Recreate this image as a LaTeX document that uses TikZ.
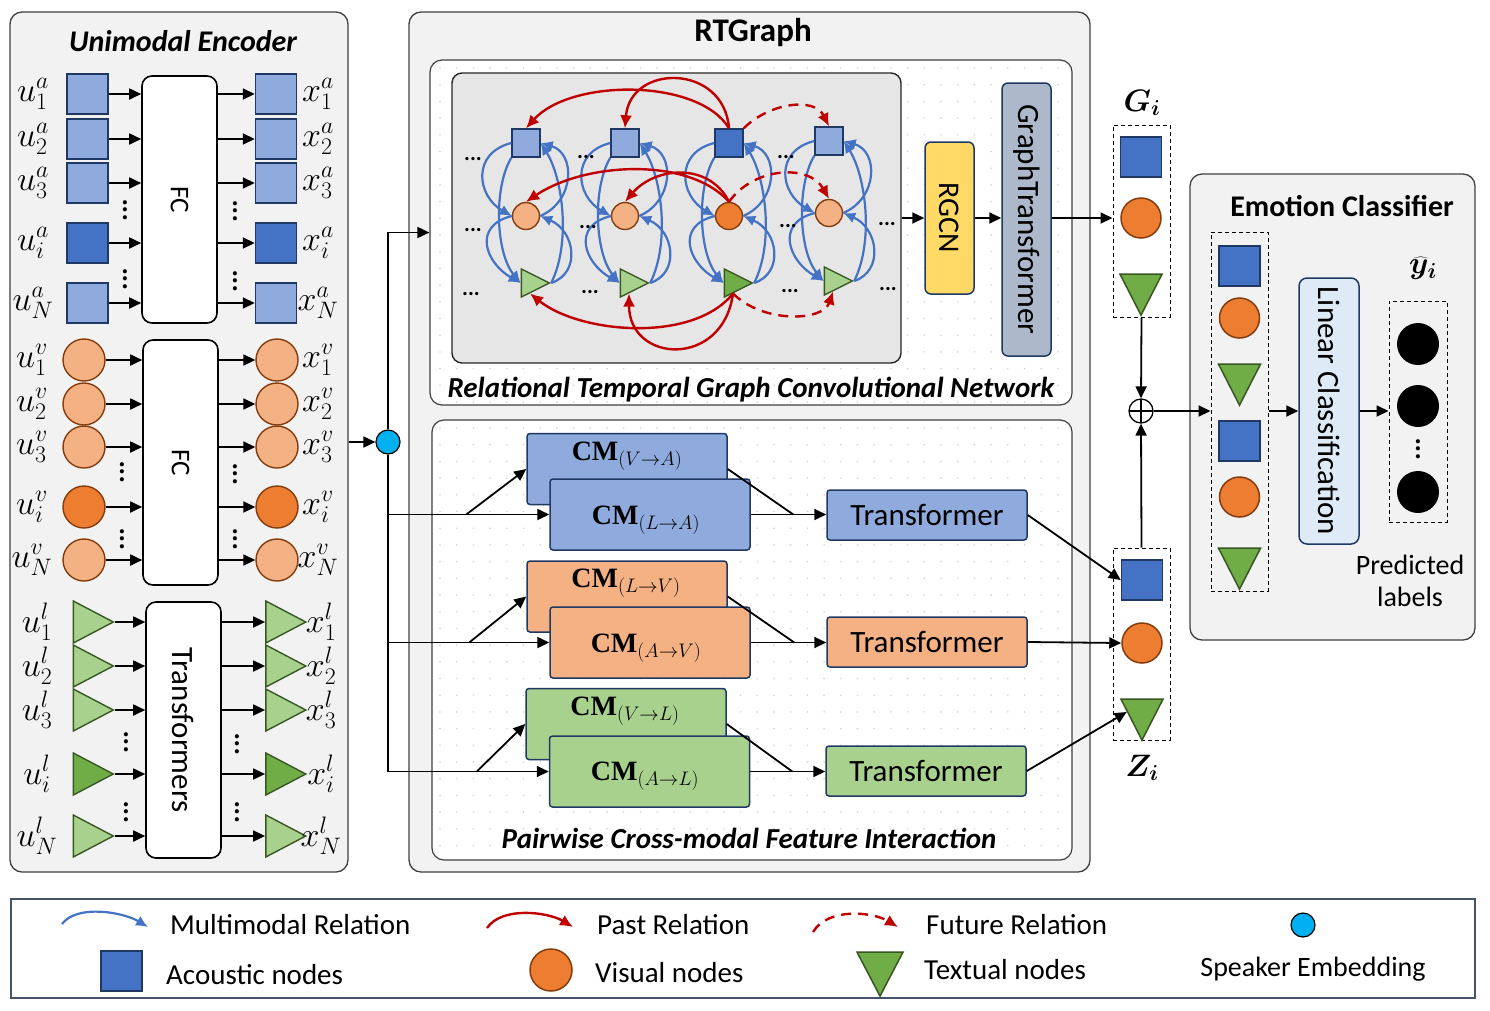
\RequirePackage{fix-cm}
\documentclass[tikz,border=0pt]{standalone}
\usepackage[no-math]{fontspec}
\setmainfont{Carlito}
\newfontfamily\cmserif{Liberation Serif}
\usepackage{bm}
\usetikzlibrary{arrows.meta,shapes.geometric}
\definecolor{lblue}{HTML}{8FAADC}
\definecolor{dblue}{HTML}{4472C4}
\definecolor{lorange}{HTML}{F4B183}
\definecolor{dorange}{HTML}{ED7D31}
\definecolor{lgreen}{HTML}{A9D18E}
\definecolor{dgreen}{HTML}{70AD47}
\definecolor{bnavy}{HTML}{1F3864}
\definecolor{obrown}{HTML}{843C0C}
\definecolor{gdark}{HTML}{385723}
\definecolor{panelgray}{HTML}{F2F2F2}
\definecolor{graphgray}{HTML}{E7E6E6}
\definecolor{relblue}{HTML}{4472C4}
\definecolor{relred}{HTML}{C00000}
\definecolor{rgcnyellow}{HTML}{FFD966}
\definecolor{gtgray}{HTML}{ADB9CA}
\definecolor{lcblue}{HTML}{DEEBF7}
\definecolor{spkcyan}{HTML}{00B0F0}
\definecolor{dotgray}{HTML}{D3D3D3}
\definecolor{legendc}{HTML}{44546A}
\tikzset{
  panel/.style={draw=black!75, line width=1.3pt, fill=panelgray, rounded corners=12pt, inner sep=0pt},
  whitebox/.style={draw=black!75, line width=1.2pt, fill=white, rounded corners=12pt, inner sep=0pt},
  encbox/.style={draw=black, line width=1.6pt, fill=white, rounded corners=10pt, inner sep=0pt, minimum width=75pt},
  sqA/.style={draw=bnavy, line width=1.4pt, minimum width=41pt, minimum height=40pt, inner sep=0pt},
  ciV/.style={circle, draw=obrown, line width=1.4pt, minimum size=42pt, inner sep=0pt},
  trL/.style={isosceles triangle, isosceles triangle stretches, draw=gdark, line width=1.4pt, minimum width=42pt, minimum height=40pt, inner sep=0pt},
  mlab/.style={font=\fontsize{34}{38}\selectfont, inner sep=0pt},
  vdt/.style={rotate=90, font=\fontsize{28}{30}\selectfont\bfseries, inner sep=0pt},
  arr/.style={line width=1.8pt, -{Triangle[length=12pt,width=11pt]}},
  plainln/.style={line width=1.8pt},
  rotlab/.style={rotate=-90, font=\fontsize{31}{36}\selectfont, inner sep=0pt},
  ttl/.style={font=\fontsize{30}{36}\selectfont\bfseries\itshape, inner sep=0pt},
  gsq/.style={draw=bnavy, line width=1.4pt, minimum size=28pt, inner sep=0pt},
  gci/.style={circle, draw=obrown, line width=1.4pt, minimum size=27pt, inner sep=0pt},
  gtr/.style={isosceles triangle, isosceles triangle stretches, draw=gdark, line width=1.4pt, minimum width=28pt, minimum height=28pt, inner sep=0pt},
  bluerel/.style={draw=relblue, line width=2.2pt, -{Latex[length=12pt,width=11pt]}},
  redrel/.style={draw=relred, line width=2.4pt, -{Latex[length=13pt,width=12pt]}},
  redfut/.style={redrel, dash pattern=on 10pt off 7pt},
  gdots/.style={font=\fontsize{22}{22}\selectfont\bfseries, inner sep=0pt},
  cmbox/.style={draw=bnavy, line width=1.5pt, rounded corners=3pt, minimum width=200pt, minimum height=71pt, inner sep=0pt},
  cmtxt/.style={font=\fontsize{28}{32}\selectfont, anchor=base, inner sep=0pt},
  tfbox/.style={draw=bnavy, line width=1.5pt, rounded corners=3pt, minimum width=200pt, minimum height=50pt, inner sep=0pt, font=\fontsize{31}{36}\selectfont},
  dashbox/.style={draw=black, line width=1pt, dash pattern=on 4pt off 3pt, inner sep=0pt},
  bsq/.style={draw=bnavy, line width=1.5pt, fill=dblue, minimum width=41pt, minimum height=40pt, inner sep=0pt},
  bci/.style={circle, draw=obrown, line width=1.5pt, fill=dorange, minimum size=40pt, inner sep=0pt},
  btr/.style={isosceles triangle, isosceles triangle stretches, shape border rotate=270, draw=gdark, line width=1.5pt, fill=dgreen, minimum width=42pt, minimum height=41pt, inner sep=0pt},
  lgtxt/.style={font=\fontsize{29}{34}\selectfont, anchor=west, inner sep=0pt},
  blk/.style={circle, fill=black, minimum size=42pt, inner sep=0pt},
}
\begin{document}
\begin{tikzpicture}[x=1pt,y=-1pt]
\useasboundingbox (0,0) rectangle (1490,1010);
\fill[white] (0,0) rectangle (1490,1010);

% ================= Unimodal Encoder =================
\node[panel, minimum width=338pt, minimum height=860pt] (enc) at (179,442) {};
\node[ttl] (enctitle) at (183,41) {Unimodal Encoder};

\node[encbox, minimum height=247pt] (fcA) at (179.5,199.5) {};
\node[rotlab, font=\fontsize{27}{32}\selectfont] (fcAt) at (fcA.center) {FC};
\node[encbox, minimum height=245pt] (fcV) at (180.5,462.5) {};
\node[rotlab, font=\fontsize{27}{32}\selectfont] (fcVt) at (fcV.center) {FC};
\node[encbox, minimum height=256pt] (fcL) at (183.5,730) {};
\node[rotlab] (fcLt) at (fcL.center) {Transformers};

\foreach \yy/\sb/\fl [count=\k] in {94/1/lblue,139/2/lblue,183/3/lblue,243/i/dblue,303/N/lblue}{
  \node[sqA, fill=\fl] (ua\k) at (87.5,\yy) {};
  \node[sqA, fill=\fl] (xa\k) at (276,\yy) {};
  \node[mlab] (ual\k) at (33,\yy) {$u_{\sb}^{a}$};
  \node[mlab] (xal\k) at (318,\yy) {$x_{\sb}^{a}$};
  \draw[arr] (ua\k.east) -- (ua\k.east -| fcA.west);
  \draw[arr] (xa\k.west -| fcA.east) -- (xa\k.west);
}
\foreach \yy/\sb/\fl [count=\k] in {360/1/lorange,404/2/lorange,447/3/lorange,507/i/dorange,560/N/lorange}{
  \node[ciV, fill=\fl] (uv\k) at (84,\yy) {};
  \node[ciV, fill=\fl] (xv\k) at (277,\yy) {};
  \node[mlab] (uvl\k) at (32,\yy) {$u_{\sb}^{v}$};
  \node[mlab] (xvl\k) at (318,\yy) {$x_{\sb}^{v}$};
  \draw[arr] (uv\k.east) -- (uv\k.east -| fcV.west);
  \draw[arr] (xv\k.west -| fcV.east) -- (xv\k.west);
}
\foreach \yy/\sb/\fl [count=\k] in {622/1/lgreen,666/2/lgreen,710/3/lgreen,774/i/dgreen,836/N/lgreen}{
  \node[trL, fill=\fl] (ul\k) at (86,\yy) {};
  \node[trL, fill=\fl] (xl\k) at (278.5,\yy) {};
  \node[mlab] (ull\k) at (37,\yy) {$u_{\sb}^{l}$};
  \node[mlab] (xll\k) at (321,\yy) {$x_{\sb}^{l}$};
  \draw[arr] (ul\k.east) -- (ul\k.east -| fcL.west);
  \draw[arr] (xl\k.west -| fcL.east) -- (xl\k.west);
}
\foreach \xx/\yy [count=\k] in {125/210,125/279,235/211,235/281,122/472,122/539,235/474,235/539,126/742,126/812,237/744,237/812}{
  \node[vdt] (vd\k) at (\xx,\yy) {...};
}

% ================= Speaker embedding =================
\node[circle, draw=black, line width=1.2pt, fill=spkcyan, minimum size=24pt, inner sep=0pt] (spk) at (388,442) {};

% ================= RTGraph =================
\node[panel, minimum width=681pt, minimum height=860pt] (rtg) at (749.5,442) {};
\node[font=\fontsize{33}{38}\selectfont\bfseries, inner sep=0pt] (rtgt) at (753,33) {RTGraph};
\node[whitebox, minimum width=642pt, minimum height=345pt] (rtgcn) at (751,232.5) {};
\node[whitebox, minimum width=640pt, minimum height=440pt] (pcm) at (752,640) {};
\begin{scope}
  \clip[rounded corners=12pt] (rtgcn.south west) rectangle (rtgcn.north east);
  \foreach \xx in {440,456.7,...,1070} \foreach \yy in {68,84.7,...,402} \fill[dotgray] (\xx,\yy) circle (0.9);
\end{scope}
\begin{scope}
  \clip[rounded corners=12pt] (pcm.south west) rectangle (pcm.north east);
  \foreach \xx in {440,456.7,...,1070} \foreach \yy in {428,444.7,...,858} \fill[dotgray] (\xx,\yy) circle (0.9);
\end{scope}
\node[font=\fontsize{29}{34}\selectfont\bfseries\itshape, inner sep=0pt] (rtgcnl) at (751,390) {Relational Temporal Graph Convolutional Network};
\node[font=\fontsize{29}{34}\selectfont\bfseries\itshape, inner sep=0pt] (pcml) at (749,838) {Pairwise Cross-modal Feature Interaction};

% graph box
\node[draw=black!85, line width=1.4pt, fill=graphgray, rounded corners=10pt, minimum width=449pt, minimum height=290pt, inner sep=0pt] (gbox) at (676.5,218) {};

\foreach \i/\cx/\sy/\cy/\ty/\fs/\fc/\ft in {1/526/143/216/283/lblue/lorange/lgreen,2/625/143/216/283/lblue/lorange/lgreen,3/729/143/216/283/dblue/dorange/dgreen,4/829/141/213/281/lblue/lorange/lgreen}{
  \node[gsq, fill=\fs] (s\i) at (\cx,\sy) {};
  \node[gci, fill=\fc] (c\i) at (\cx,\cy) {};
  \node[gtr, fill=\ft] (t\i) at (\cx+4,\ty) {};
  \draw[bluerel] (s\i.west) .. controls +(-40,10) and +(-35,-20) .. (c\i.west);
  \draw[bluerel] (s\i.south west) .. controls +(-18,30) and +(-25,-30) .. (t\i.west);
  \draw[bluerel] (c\i.west) .. controls +(-40,10) and +(-35,-20) .. (t\i.west);
  \draw[bluerel] (t\i.east) .. controls +(30,-10) and +(35,15) .. (c\i.east);
  \draw[bluerel] (t\i.east) .. controls +(20,-40) and +(22,35) .. (s\i.east);
  \draw[bluerel] (c\i.east) .. controls +(35,-15) and +(35,10) .. (s\i.east);
}
% past / future relations
\draw[redrel] (s3.north) .. controls +(-30,-50) and +(45,-50) .. (s1.north);
\draw[redrel] (s3.north) .. controls +(-5,-65) and +(5,-65) .. (s2.north);
\draw[redfut] (s3.north east) .. controls +(25,-25) and +(-15,-30) .. (s4.north);
\draw[redrel] (c3.north) .. controls +(-40,-45) and +(60,-40) .. (c1.north);
\draw[redrel] (c3.north) .. controls +(-20,-40) and +(30,-35) .. (c2.north);
\draw[redfut] (c3.north) .. controls +(25,-35) and +(-20,-35) .. (c4.north);
\draw[redrel] (t3.south) .. controls +(-40,50) and +(50,40) .. (t1.south);
\draw[redrel] (t3.south) .. controls +(-10,75) and +(0,70) .. (t2.south);
\draw[redfut] (t3.south) .. controls +(30,30) and +(-10,30) .. (t4.south);

\foreach \xx/\yy [count=\k] in {473/159,473/230,471/294,586/157,588/227,590/292,786/157,788/226,790/291,887/224,888/289}{
  \node[gdots] (gd\k) at (\xx,\yy) {...};
}

% RGCN, GraphTransformer
\node[draw=bnavy, line width=1.5pt, fill=rgcnyellow, rounded corners=6pt, minimum width=49pt, minimum height=152pt, inner sep=0pt] (rgcn) at (949.5,218) {};
\node[rotlab, font=\fontsize{30}{34}\selectfont] (rgcnt) at (rgcn.center) {RGCN};
\node[draw=bnavy, line width=1.5pt, fill=gtgray, rounded corners=6pt, minimum width=49pt, minimum height=273pt, inner sep=0pt] (gt) at (1026.5,219.5) {};
\node[rotlab] (gtt) at (gt.center) {GraphTransformer};
\draw[arr] (gbox.east) -- (gbox.east -| rgcn.west);
\draw[arr] (gbox.east -| rgcn.east) -- (gbox.east -| gt.west);

% G_i
\node[dashbox, minimum width=57pt, minimum height=192pt] (gi) at (1141.5,221) {};
\node[bsq] (gsqn) at (1141,157) {};
\node[bci] (gcn) at (1141,218) {};
\node[btr] (gtrn) at (1141,287) {};
\node[font=\fontsize{31}{36}\selectfont, inner sep=0pt] (gil) at (1142,103) {$\bm{G_i}$};
\draw[arr] (gbox.east -| gt.east) -- (gbox.east -| gi.west);

% speaker connections
\draw[arr] (enc.east) -- (spk.west);
\draw[arr] (spk.north) |- (rtgcn.west);

% CM boxes
\node[cmbox, fill=lblue] (cmVA) at (627,469) {};
\node[cmbox, fill=lblue] (cmLA) at (650,514.5) {};
\node[cmbox, fill=lorange] (cmLV) at (627,596.5) {};
\node[cmbox, fill=lorange] (cmAV) at (650,642.5) {};
\node[cmbox, fill=lgreen] (cmVL) at (626,724) {};
\node[cmbox, fill=lgreen] (cmAL) at (649.5,771.5) {};
\node[cmtxt] (cmVAt) at (627,460) {{\cmserif\bfseries CM}$_{(V\rightarrow A)}$};
\node[cmtxt] (cmLAt) at (646,524) {{\cmserif\bfseries CM}$_{(L\rightarrow A)}$};
\node[cmtxt] (cmLVt) at (626,587) {{\cmserif\bfseries CM}$_{(L\rightarrow V)}$};
\node[cmtxt] (cmAVt) at (646,652) {{\cmserif\bfseries CM}$_{(A\rightarrow V)}$};
\node[cmtxt] (cmVLt) at (625,715) {{\cmserif\bfseries CM}$_{(V\rightarrow L)}$};
\node[cmtxt] (cmALt) at (645,780) {{\cmserif\bfseries CM}$_{(A\rightarrow L)}$};

\node[tfbox, fill=lblue] (tfA) at (927,515) {Transformer};
\node[tfbox, fill=lorange] (tfV) at (927,642) {Transformer};
\node[tfbox, fill=lgreen] (tfL) at (926,771) {Transformer};

\draw[arr] (spk.south) |- (cmLA.west);
\draw[arr] (spk.south) |- (cmAV.west);
\draw[arr] (spk.south) |- (cmAL.west);
\path (cmLA.west) ++(-83,0) coordinate (bA);
\path (cmAV.west) ++(-80,0) coordinate (bV);
\path (cmAL.west) ++(-72,0) coordinate (bL);
\draw[arr] (bA) -- (cmVA.west);
\draw[arr] (bV) -- (cmLV.west);
\draw[arr] (bL) -- (cmVL.west);

\draw[arr] (cmLA.east) -- (cmLA.east -| tfA.west);
\draw[arr] (cmAV.east) -- (cmAV.east -| tfV.west);
\draw[arr] (cmAL.east) -- (cmAL.east -| tfL.west);
\path (cmLA.east -| tfA.west) ++(-33,0) coordinate (mA);
\path (cmAV.east -| tfV.west) ++(-32,0) coordinate (mV);
\path (cmAL.east -| tfL.west) ++(-33,0) coordinate (mL);
\draw[plainln] (cmVA.east) -- (mA);
\draw[plainln] (cmLV.east) -- (mV);
\draw[plainln] (cmVL.east) -- (mL);

% Z_i
\node[dashbox, minimum width=57pt, minimum height=192pt] (zi) at (1141.5,644) {};
\node[bsq] (zsq) at (1142,580) {};
\node[bci] (zc) at (1142,643) {};
\node[btr] (ztr) at (1142,712) {};
\node[font=\fontsize{31}{36}\selectfont, inner sep=0pt] (zil) at (1142,768) {$\bm{Z_i}$};
\draw[arr] (tfA.east) -- (zsq.west);
\draw[arr] (tfV.east) -- (zc.west);
\draw[arr] (tfL.east) -- (ztr.west);

% oplus
\node[circle, draw=black, line width=1.3pt, fill=white, minimum size=24pt, inner sep=0pt,
  path picture={\draw[line width=1.3pt] (path picture bounding box.north) -- (path picture bounding box.south) (path picture bounding box.west) -- (path picture bounding box.east);}] (oplus) at (1141,411) {};
\draw[arr] (gi.south) -- (oplus.north);
\draw[arr] (zi.north) -- (oplus.south);

% ================= Emotion Classifier =================
\node[panel, minimum width=285pt, minimum height=466pt] (emo) at (1332.5,407) {};
\node[font=\fontsize{30}{36}\selectfont\bfseries, inner sep=0pt] (emot) at (1342,206) {Emotion Classifier};
\node[dashbox, minimum width=57pt, minimum height=359pt] (ecb) at (1239.5,411.5) {};
\node[bsq] (e1) at (1239.5,266) {};
\node[bci] (e2) at (1239.5,318) {};
\node[btr] (e3) at (1239.5,377) {};
\node[bsq] (e4) at (1239.5,441) {};
\node[bci] (e5) at (1239.5,497) {};
\node[btr] (e6) at (1239.5,561) {};
\node[draw=bnavy, line width=1.5pt, fill=lcblue, rounded corners=8pt, minimum width=60pt, minimum height=266pt, inner sep=0pt] (lc) at (1329,411) {};
\node[rotlab] (lct) at (lc.center) {Linear Classification};
\node[dashbox, minimum width=58pt, minimum height=221pt] (pred) at (1418,411.5) {};
\node[blk] (p1) at (1418,344) {};
\node[blk] (p2) at (1418,406) {};
\node[blk] (p3) at (1418,492) {};
\node[vdt] (pdots) at (1418,449) {...};
\node[font=\fontsize{31}{36}\selectfont, inner sep=0pt] (yl) at (1423,268) {$\bm{\widehat{y}_i}$};
\node[font=\fontsize{28}{32}\selectfont, align=center, inner sep=0pt] (predl) at (1410,581) {Predicted\\labels};
\draw[arr] (oplus.east) -- (oplus.east -| ecb.west);
\draw[arr] (lc.west -| ecb.east) -- (lc.west);
\draw[arr] (lc.east) -- (lc.east -| pred.west);

% ================= Legend =================
\node[draw=legendc, line width=1.4pt, fill=white, minimum width=1464pt, minimum height=99pt, inner sep=0pt] (leg) at (743,948.5) {};
\coordinate (lgA1) at (62,924);
\coordinate (lgA2) at (148,927);
\draw[bluerel] (lgA1) .. controls +(15,-20) and +(-25,-15) .. (lgA2);
\coordinate (lgB1) at (487,928);
\coordinate (lgB2) at (573,927);
\draw[redrel] (lgB1) .. controls +(15,-22) and +(-25,-15) .. (lgB2);
\coordinate (lgC1) at (813,932);
\coordinate (lgC2) at (898,927);
\draw[redfut] (lgC1) .. controls +(15,-25) and +(-25,-15) .. (lgC2);
\node[lgtxt] (lgt1) at (170,925) {Multimodal Relation};
\node[lgtxt] (lgt2) at (597,925) {Past Relation};
\node[lgtxt] (lgt3) at (926,925) {Future Relation};
\node[bsq] (lgsq) at (121.5,971) {};
\node[lgtxt] (lgt4) at (166,975) {Acoustic nodes};
\node[circle, draw=obrown, line width=1.5pt, fill=dorange, minimum width=42pt, minimum height=42pt, inner sep=0pt] (lgci) at (551,970) {};
\node[lgtxt] (lgt5) at (595,973) {Visual nodes};
\node[btr, minimum width=46pt, minimum height=44pt] (lgtr) at (880,966) {};
\node[lgtxt] (lgt6) at (924,970) {Textual nodes};
\node[circle, draw=black, line width=1.2pt, fill=spkcyan, minimum size=24pt, inner sep=0pt] (lgspk) at (1303,925) {};
\node[font=\fontsize{28}{33}\selectfont, inner sep=0pt] (lgt7) at (1313,969) {Speaker Embedding};
\end{tikzpicture}
\end{document}
